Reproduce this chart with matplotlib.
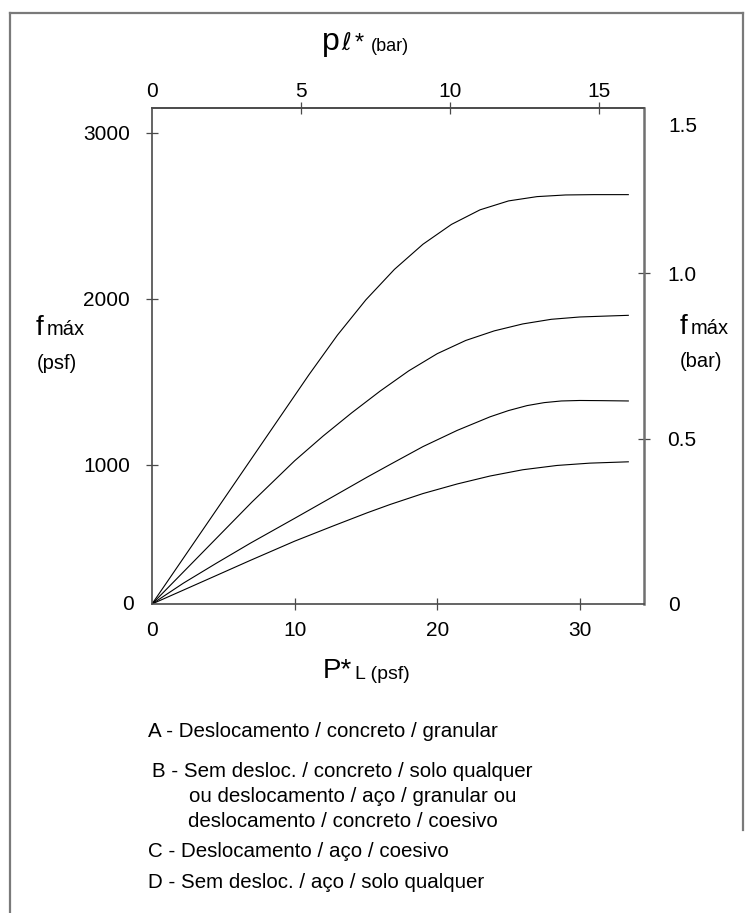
import matplotlib
matplotlib.use("Agg")
import matplotlib.pyplot as plt
from matplotlib.lines import Line2D
from matplotlib.ticker import FixedLocator

plt.rcParams['font.family'] = ['Liberation Sans', 'DejaVu Sans']

# ---------------- data (x: P*L in psf-axis units, y: f_max in bar) ----------------
x_A = [0, 3, 6, 9, 11, 13, 15, 17, 19, 21, 23, 25, 27, 29, 31, 33.4]
y_A = [0, 0.189, 0.378, 0.567, 0.693, 0.813, 0.920, 1.012, 1.088, 1.148, 1.192, 1.219, 1.232, 1.237, 1.238, 1.238]

x_B = [0, 3, 7, 10, 12, 14, 16, 18, 20, 22, 24, 26, 28, 30, 32, 33.4]
y_B = [0, 0.132, 0.308, 0.433, 0.508, 0.578, 0.644, 0.705, 0.757, 0.797, 0.826, 0.847, 0.861, 0.868, 0.871, 0.873]

x_C = [0, 2.2, 4.5, 6.9, 10.0, 12.7, 15.1, 16.7, 19.0, 21.4, 23.7, 25.0, 26.3, 27.5, 28.7, 30.0, 31.5, 33.4]
y_C = [0, 0.063, 0.123, 0.184, 0.259, 0.325, 0.384, 0.422, 0.476, 0.525, 0.566, 0.585, 0.600, 0.609, 0.614, 0.6155, 0.615, 0.614]

x_D = [0, 2.2, 4.5, 6.9, 10.0, 12.7, 15.1, 16.7, 19.0, 21.4, 23.7, 26.0, 28.4, 30.7, 33.4]
y_D = [0, 0.042, 0.086, 0.132, 0.190, 0.236, 0.276, 0.301, 0.334, 0.363, 0.387, 0.406, 0.419, 0.426, 0.430]

bottom_ticks = [0, 10, 20, 30]
top_ticks = [0, 5, 10, 15]
left_ticks = [1000, 2000, 3000]
right_ticks = [0.5, 1.0]
PSF_PER_BAR = 2.0885

legend_lines = [
    "A - Deslocamento / concreto / granular",
    "B - Sem desloc. / concreto / solo qualquer",
    "ou deslocamento / aço / granular ou",
    "deslocamento / concreto / coesivo",
    "C - Deslocamento / aço / coesivo",
    "D - Sem desloc. / aço / solo qualquer",
]

# ---------------- figure ----------------
W, H = 750, 913
fig = plt.figure(figsize=(W / 100, H / 100), dpi=100)
fig.patch.set_facecolor('white')


def P(x, y):
    return x / W, 1 - y / H


FS = 15
L, R, T, B = 152, 644, 108, 604
ax = fig.add_axes([L / W, 1 - B / H, (R - L) / W, (B - T) / H])
ax.set_xlim(0, 34.5)
ax.set_ylim(0, 1.5)

for xs, ys in [(x_A, y_A), (x_B, y_B), (x_C, y_C), (x_D, y_D)]:
    ax.plot(xs, ys, color='black', lw=0.8, solid_joinstyle='round')

spine_col = '#4a4a4a'
tick_kw = dict(direction='inout', length=8, width=0.9, color=spine_col,
               labelsize=FS, labelcolor='black')

# left axis (psf) - drawn scale on a twin axes
axl = ax.twinx()
axl.set_ylim(161, 3148)
axl.yaxis.tick_left()
axl.yaxis.set_major_locator(FixedLocator(left_ticks))
axl.set_yticklabels([str(t) for t in left_ticks])
axl.tick_params(axis='y', pad=12, **tick_kw)
for s in axl.spines.values():
    s.set_visible(False)
fig.text(*P(134, 604), "0", fontsize=FS, ha='right', va='center')

for s in ax.spines.values():
    s.set_color(spine_col)
    s.set_linewidth(1.2)
ax.spines['right'].set_color('#707070')
ax.spines['right'].set_linewidth(1.8)

# bottom axis
ax.xaxis.set_major_locator(FixedLocator(bottom_ticks))
ax.set_xticklabels([str(t) for t in bottom_ticks])
ax.tick_params(axis='x', pad=8, **tick_kw)
ax.xaxis.get_major_ticks()[0].tick1line.set_visible(False)

# right axis (bar)
ax.yaxis.tick_right()
ax.yaxis.set_major_locator(FixedLocator(right_ticks))
ax.set_yticklabels([f"{t:.1f}" for t in right_ticks])
ax.tick_params(axis='y', pad=13, **tick_kw)
fig.text(*P(668, 605), "0", fontsize=FS, ha='left', va='center')
fig.text(*P(668, 126), "1.5", fontsize=FS, ha='left', va='center')

# top axis (bar)
sec = ax.secondary_xaxis('top', functions=(lambda v: v / PSF_PER_BAR, lambda v: v * PSF_PER_BAR))
sec.xaxis.set_major_locator(FixedLocator(top_ticks))
sec.set_xticklabels([str(t) for t in top_ticks])
sec.tick_params(axis='x', pad=1, **tick_kw)
sec.spines['top'].set_color(spine_col)
sec.spines['top'].set_linewidth(1.2)
sec.xaxis.get_major_ticks()[0].tick2line.set_visible(False)

# axis titles
fig.text(*P(322, 50), "p", fontsize=23, va='baseline', ha='left')
fig.text(*P(341, 50), "ℓ", fontsize=17, va='baseline', ha='left',
         family='DejaVu Sans', style='italic')
fig.text(*P(355, 50), "*", fontsize=17, va='baseline', ha='left')
fig.text(*P(371, 51), "(bar)", fontsize=13, va='baseline', ha='left')

fig.text(*P(323, 678), "P*", fontsize=20, va='baseline', ha='left')
fig.text(*P(355, 679), "L (psf)", fontsize=14, va='baseline', ha='left')

fig.text(*P(36, 335), "f", fontsize=20, va='baseline', ha='left')
fig.text(*P(47, 335), "máx", fontsize=14.5, va='baseline', ha='left')
fig.text(*P(37, 369), "(psf)", fontsize=14.5, va='baseline', ha='left')

fig.text(*P(680, 334), "f", fontsize=20, va='baseline', ha='left')
fig.text(*P(691, 334), "máx", fontsize=14.5, va='baseline', ha='left')
fig.text(*P(680, 367), "(bar)", fontsize=14.5, va='baseline', ha='left')

# legend text
leg_pos = [(148, 737), (152, 777), (189, 802), (188, 827), (148, 857), (148, 888)]
for (lx, ly), s in zip(leg_pos, legend_lines):
    fig.text(*P(lx, ly), s, fontsize=14.8, va='baseline', ha='left')

# outer frame
fc = '#7a7a7a'
fig.add_artist(Line2D([9.5 / W, 9.5 / W], [0, 1 - 13 / H], color=fc, lw=1.6, transform=fig.transFigure))
fig.add_artist(Line2D([9.5 / W, 743 / W], [1 - 13 / H, 1 - 13 / H], color=fc, lw=1.6, transform=fig.transFigure))
fig.add_artist(Line2D([743 / W, 743 / W], [1 - 13 / H, 1 - 830 / H], color=fc, lw=1.6, transform=fig.transFigure))

fig.savefig("out.png", dpi=100, facecolor='white')
